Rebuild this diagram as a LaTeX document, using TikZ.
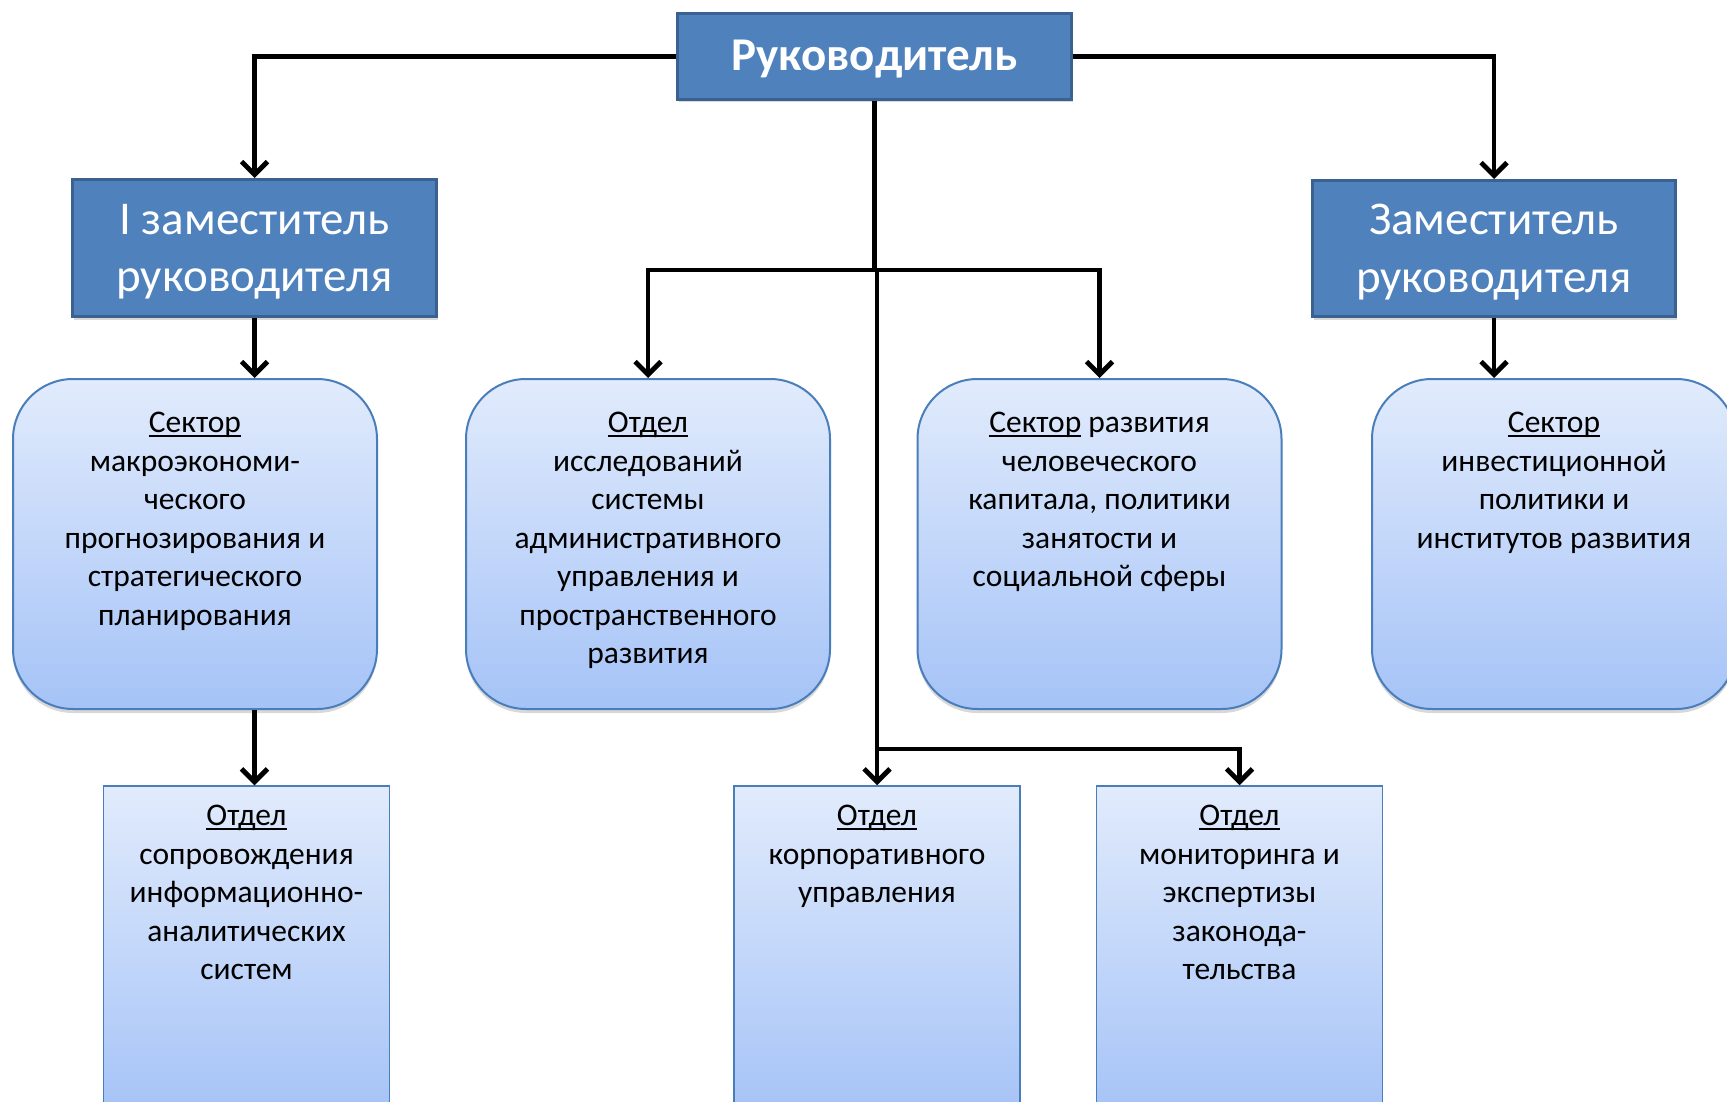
\documentclass[tikz,border=0pt]{standalone}
\usepackage{fontspec}
\setmainfont{Carlito}
\usetikzlibrary{arrows.meta,shadows}
\definecolor{hdblue}{HTML}{4F81BD}
\definecolor{hdborder}{HTML}{3A6190}
\definecolor{gtop}{HTML}{E1EBFC}
\definecolor{gbot}{HTML}{A5C3F7}
\definecolor{lborder}{HTML}{4A7EBB}
\newcommand{\ulw}[1]{\setbox0=\hbox{#1}\makebox[0pt][l]{\rule[-0.13em]{\wd0}{0.06em}}\box0\relax}
\begin{document}
\begin{tikzpicture}[x=1pt,y=-1pt,
  head/.style={draw=hdborder, line width=3pt, fill=hdblue, inner sep=0pt,
    drop shadow={opacity=0.3, shadow xshift=1pt, shadow yshift=-3pt}},
  htext/.style={text=white, inner sep=0pt, align=center},
  rbox/.style={draw=lborder, line width=2pt, rounded corners=60pt, top color=gtop, bottom color=gbot,
    minimum width=364pt, minimum height=330pt, inner sep=0pt,
    drop shadow={opacity=0.3, shadow xshift=0pt, shadow yshift=-4pt}},
  sbox/.style={draw=lborder, line width=1.5pt, top color=gtop, bottom color=gbot,
    minimum width=286pt, minimum height=330pt, inner sep=0pt},
  btext/.style={anchor=north, align=center, inner sep=0pt, text=black,
    font=\fontsize{31.5pt}{38.5pt}\selectfont},
  conn/.style={draw=black, line width=4.8pt},
  arr/.style={conn, -{Straight Barb[length=13pt,width=26pt]}}
]
\useasboundingbox (0,0) rectangle (1727,1102);
\clip (0,0) rectangle (1727,1102);
\fill[white] (0,0) rectangle (1727,1102);

% header boxes
\node[head, minimum width=394pt, minimum height=86pt] (top) at (874.5,56.5) {};
\node[head, minimum width=364pt, minimum height=137pt] (dep1) at (254.5,248) {};
\node[head, minimum width=363pt, minimum height=136pt] (dep2) at (1494,248.5) {};
\node[htext, font=\fontsize{47pt}{57pt}\selectfont\bfseries] (topt) at (874.5,59.5) {Руководитель};
\node[htext, font=\fontsize{47pt}{57.3pt}\selectfont] (dep1t) at (254.5,251.5) {I заместитель\\руководителя};
\node[htext, font=\fontsize{47pt}{57.3pt}\selectfont] (dep2t) at (1494,252) {Заместитель\\руководителя};

% rounded boxes
\node[rbox] (r1) at (195,544) {};
\node[rbox] (r2) at (648,544) {};
\node[rbox] (r3) at (1099.5,544) {};
\node[rbox] (r4) at (1554,544) {};
\node[btext] (r1t) at (195,412) {\ulw{Сектор}\\макроэкономи-\\ческого\\прогнозирования и\\стратегического\\планирования};
\node[btext] (r2t) at (648,412) {\ulw{Отдел}\\исследований\\системы\\административного\\управления и\\пространственного\\развития};
\node[btext] (r3t) at (1099.5,412) {\ulw{Сектор} развития\\человеческого\\капитала, политики\\занятости и\\социальной сферы};
\node[btext] (r4t) at (1554,412) {\ulw{Сектор}\\инвестиционной\\политики и\\институтов развития};

% bottom boxes
\node[sbox] (A) at (246.5,951) {};
\node[sbox] (B) at (877,951) {};
\node[sbox] (C) at (1239.5,951) {};
\node[btext] (At) at (246.5,805) {\ulw{Отдел}\\сопровождения\\информационно-\\аналитических\\систем};
\node[btext] (Bt) at (877,805) {\ulw{Отдел}\\корпоративного\\управления};
\node[btext] (Ct) at (1239.5,805) {\ulw{Отдел}\\мониторинга и\\экспертизы\\законода-\\тельства};

% connectors
\draw[arr] (top.west) -| (dep1.north);
\draw[arr] (top.east) -| (dep2.north);
\draw[arr] (dep1.south) -- (dep1.south |- r1.north);
\draw[arr] (dep2.south) -- (dep2.south |- r4.north);
\draw[arr] (dep1.south |- r1.south) -- (dep1.south |- A.north);
\coordinate (hub) at (874.5,270);
\coordinate (hub2) at (877,749);
\draw[conn] (top.south) -- (hub);
\draw[arr] (hub) -| (r2.north);
\draw[arr] (hub) -| (r3.north);
\draw[arr] (hub -| B.north) -- (B.north);
\draw[arr] (hub2) -| (C.north);
\end{tikzpicture}
\end{document}
